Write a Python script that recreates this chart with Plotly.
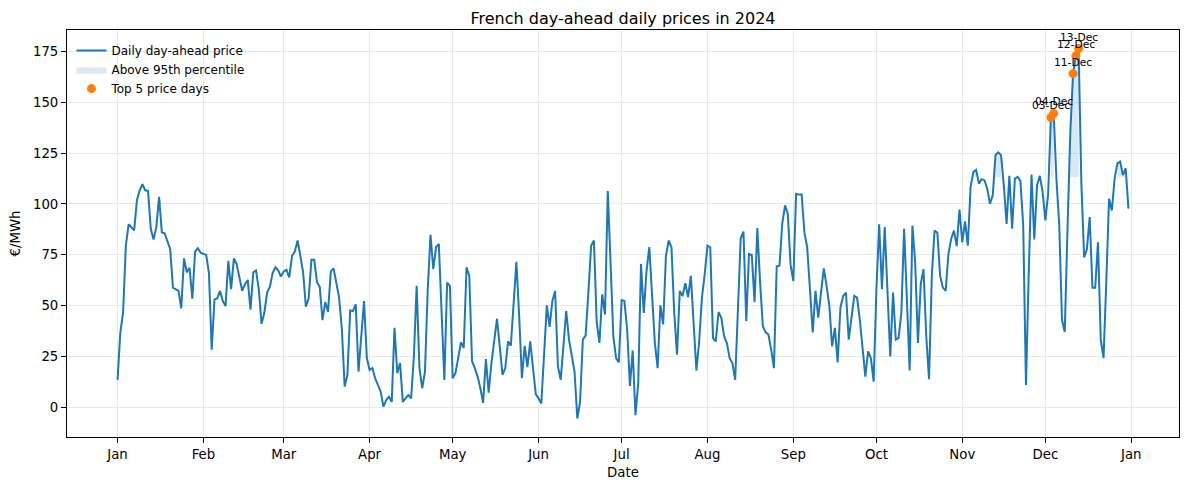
import numpy as np
import pandas as pd
import plotly.graph_objects as go

# Daily day-ahead prices (EUR/MWh), 1 Jan 2024 .. 31 Dec 2024 (366 days)
prices = [
    13.4, 36.7, 46.6, 79.5, 90.0, 88.7, 87.0, 101.8, 106.7, 109.7,
    106.7, 106.4, 87.8, 82.5, 88.6, 103.5, 86.0, 85.6, 82.0, 77.8,
    58.8, 58.0, 57.2, 48.6, 73.2, 66.3, 68.6, 53.4, 76.5, 78.2,
    76.0, 75.4, 75.0, 66.0, 28.3, 53.0, 53.5, 57.2, 52.2, 49.7,
    72.0, 58.0, 73.2, 70.4, 64.6, 57.2, 60.5, 62.6, 48.0, 66.4,
    67.3, 58.0, 41.0, 46.4, 56.4, 59.3, 66.0, 68.8, 67.3, 64.3,
    66.8, 67.6, 63.8, 74.5, 76.5, 82.0, 74.5, 66.3, 49.4, 53.4,
    72.5, 72.5, 61.6, 59.2, 42.8, 51.7, 46.9, 66.8, 68.3, 60.0,
    53.9, 38.2, 10.1, 15.9, 47.6, 47.3, 50.6, 17.5, 35.0, 52.2,
    24.3, 18.3, 19.2, 14.2, 10.9, 7.6, 0.2, 3.5, 5.1, 2.6,
    39.0, 16.7, 21.7, 2.6, 4.3, 5.9, 4.3, 25.0, 59.7, 19.2,
    9.3, 17.5, 58.0, 84.8, 67.9, 78.7, 80.3, 45.6, 13.4, 61.3,
    59.7, 14.2, 16.7, 24.1, 31.9, 29.1, 68.8, 64.6, 22.5, 19.2,
    15.0, 9.3, 2.1, 23.6, 7.1, 21.7, 32.4, 43.5, 29.9, 15.9,
    19.2, 32.4, 30.2, 48.9, 71.5, 45.1, 14.2, 30.2, 19.7, 32.4,
    17.5, 6.4, 4.3, 1.8, 25.8, 50.1, 39.5, 52.2, 57.2, 20.0,
    13.4, 29.1, 47.3, 33.2, 24.9, 17.5, -5.6, 2.6, 33.2, 35.2,
    56.4, 79.5, 82.0, 41.8, 31.6, 55.5, 45.6, 106.3, 71.2, 34.9,
    24.1, 22.0, 52.7, 52.2, 38.2, 10.4, 27.9, -4.0, 11.7, 70.4,
    46.4, 67.1, 78.7, 56.4, 31.6, 19.2, 50.1, 40.7, 74.5, 82.0,
    78.7, 46.4, 25.8, 57.2, 54.7, 61.0, 54.2, 64.6, 41.5, 18.0,
    32.4, 53.9, 65.4, 79.5, 78.7, 34.0, 32.4, 46.8, 44.0, 34.9,
    31.6, 24.1, 21.7, 13.4, 48.1, 83.1, 86.4, 42.3, 75.4, 74.9,
    51.7, 88.1, 61.3, 39.8, 36.8, 35.7, 28.3, 19.2, 69.3, 69.6,
    90.2, 99.3, 95.2, 70.0, 62.0, 105.0, 104.6, 104.6, 86.0, 78.7,
    58.0, 36.8, 57.2, 44.0, 56.4, 68.3, 59.7, 49.7, 29.9, 39.0,
    22.0, 48.9, 54.7, 56.4, 33.2, 44.8, 54.7, 53.9, 43.1, 29.1,
    15.0, 27.4, 24.1, 12.5, 58.0, 90.0, 58.0, 88.6, 58.0, 24.9,
    56.4, 33.2, 34.0, 46.4, 87.8, 49.7, 18.0, 89.4, 71.2, 31.6,
    60.5, 67.9, 34.9, 13.7, 64.6, 86.9, 85.8, 64.6, 58.8, 57.2,
    75.4, 82.8, 86.9, 79.2, 97.2, 81.1, 91.4, 79.5, 108.4, 115.8,
    116.7, 110.0, 112.2, 111.7, 107.6, 100.1, 104.3, 124.1, 125.4, 124.0,
    109.2, 90.2, 113.8, 87.8, 112.5, 113.3, 111.2, 89.4, 10.9, 66.3,
    114.5, 82.5, 109.2, 113.8, 105.9, 91.9, 105.0, 142.6, 144.6, 112.0,
    90.0, 43.0, 37.0, 88.0, 135.0, 164.1, 172.9, 176.5, 110.0, 73.7,
    77.8, 93.5, 58.8, 58.8, 81.1, 33.2, 24.1, 62.0, 102.6, 96.8,
    112.5, 120.0, 120.8, 114.2, 117.5, 97.7,
]

month_labels = ["Jan", "Feb", "Mar", "Apr", "May", "Jun",
                "Jul", "Aug", "Sep", "Oct", "Nov", "Dec", "Jan"]

dates = pd.date_range("2024-01-01", periods=len(prices), freq="D")
series = pd.Series(prices, index=dates)
p95 = float(np.percentile(prices, 95))
top5 = series.nlargest(5)

BLUE = "#1f77b4"
ORANGE = "#ff7f0e"
FILL = "rgba(31,119,180,0.17)"

fig = go.Figure()

fig.add_trace(go.Scatter(
    x=dates, y=prices, mode="lines",
    line=dict(color=BLUE, width=2),
    name="Daily day-ahead price",
))

# shaded regions where price is above the 95th percentile
mask = (series > p95).values
runs = []
i = 0
n = len(prices)
while i < n:
    if mask[i]:
        j = i
        while j + 1 < n and mask[j + 1]:
            j += 1
        runs.append((i, j))
        i = j + 1
    else:
        i += 1

for k, (a, b) in enumerate(runs):
    xs = list(dates[a:b + 1]) + list(dates[a:b + 1][::-1])
    ys = list(prices[a:b + 1]) + [p95] * (b - a + 1)
    fig.add_trace(go.Scatter(
        x=xs, y=ys, mode="lines", fill="toself", fillcolor=FILL,
        line=dict(width=0, color=FILL),
        name="Above 95th percentile", legendgroup="p95",
        showlegend=(k == 0), hoverinfo="skip",
    ))

fig.add_trace(go.Scatter(
    x=top5.index, y=top5.values, mode="markers",
    marker=dict(color=ORANGE, size=9),
    name="Top 5 price days",
))

for d, v in top5.items():
    fig.add_annotation(
        x=d, y=v, text=d.strftime("%d-%b"), showarrow=False,
        yanchor="bottom", xanchor="center", yshift=3,
        font=dict(size=10.7, color="black"),
    )

pad_x = pd.Timedelta(days=0.05 * (dates[-1] - dates[0]).days)
ymin, ymax = min(prices), max(prices)
pad_y = 0.05 * (ymax - ymin)

month_ticks = pd.date_range("2024-01-01", "2025-01-01", freq="MS")

axis_common = dict(
    showgrid=True, gridcolor="#e8e8e8", gridwidth=1,
    showline=True, mirror=True, linecolor="black", linewidth=1,
    ticks="outside", ticklen=5, tickcolor="black", tickwidth=1,
    zeroline=False, automargin=False,
)

fig.update_layout(
    width=1189, height=490,
    paper_bgcolor="white", plot_bgcolor="white",
    font=dict(family="DejaVu Sans", size=13.3, color="black"),
    margin=dict(l=67, r=10, t=30, b=53, autoexpand=False),
    title=dict(text="French day-ahead daily prices in 2024",
               x=0.5, xref="paper", y=1 - 18 / 490, yref="container",
               xanchor="center", yanchor="middle",
               font=dict(size=16, color="black")),
    legend=dict(x=0.004, y=0.985, xanchor="left", yanchor="top",
                bgcolor="rgba(255,255,255,0)", borderwidth=0,
                font=dict(size=12), tracegroupgap=0),
    showlegend=True,
    xaxis=dict(
        range=[dates[0] - pad_x, dates[-1] + pad_x],
        tickvals=list(month_ticks), ticktext=month_labels,
        title=dict(text="Date", standoff=6, font=dict(size=13.3)),
        **axis_common,
    ),
    yaxis=dict(
        range=[ymin - pad_y, ymax + pad_y],
        tickvals=list(range(0, 176, 25)),
        title=dict(text="€/MWh", standoff=9, font=dict(size=13.3)),
        **axis_common,
    ),
)

fig.write_html("out.html",
               config={"displayModeBar": False},
               post_script="document.body.style.margin='0';"
                           "document.body.style.padding='0';")
